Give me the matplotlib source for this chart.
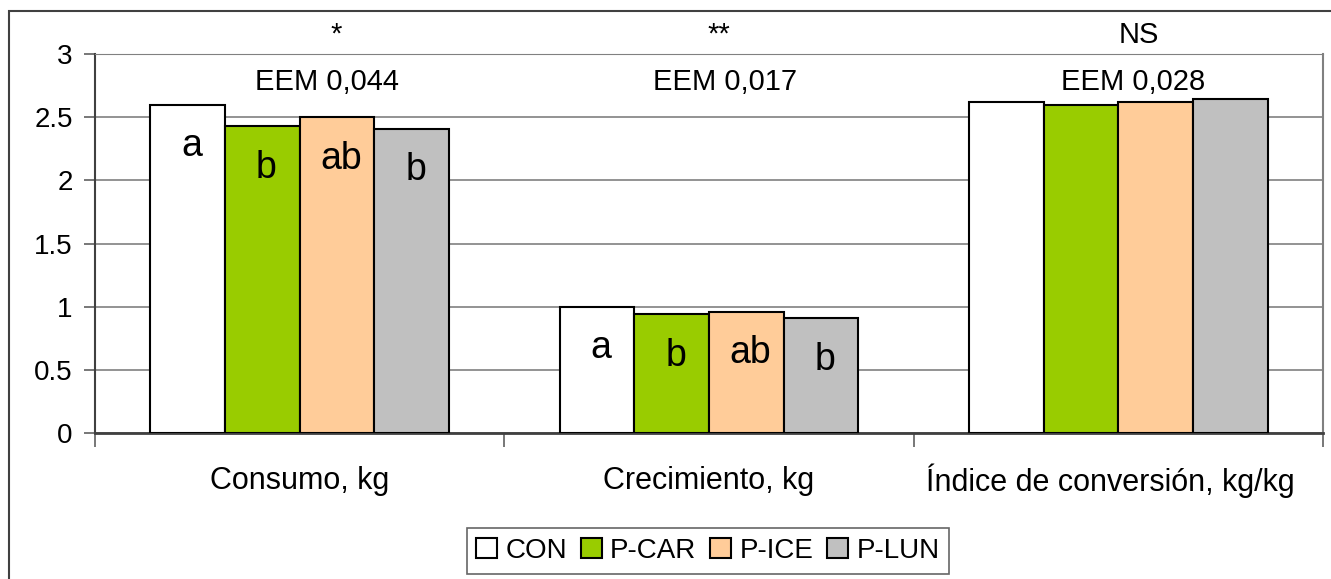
import numpy as np
import matplotlib
matplotlib.use('Agg')
import matplotlib.pyplot as plt
from matplotlib.patches import Rectangle

plt.rcParams['font.family'] = ['Liberation Sans', 'DejaVu Sans']

# --- DATA ---
categories = ['Consumo, kg', 'Crecimiento, kg', 'Índice de conversión, kg/kg']
treatments = ['CON', 'P-CAR', 'P-ICE', 'P-LUN']
values = {
    'CON':   [2.60, 1.00, 2.62],
    'P-CAR': [2.43, 0.94, 2.60],
    'P-ICE': [2.50, 0.96, 2.62],
    'P-LUN': [2.41, 0.91, 2.64],
}
letters = {
    'CON':   ['a', 'a', ''],
    'P-CAR': ['b', 'b', ''],
    'P-ICE': ['ab', 'ab', ''],
    'P-LUN': ['b', 'b', ''],
}
signif = ['*', '**', 'NS']
eem = ['EEM 0,044', 'EEM 0,017', 'EEM 0,028']
colors = ['#FFFFFF', '#99CC00', '#FFCC99', '#C0C0C0']

# --- FIGURE ---
fig = plt.figure(figsize=(13.31, 5.79), dpi=100)
ax = fig.add_axes([95 / 1331, 1 - 433 / 579, (1323 - 95) / 1331, (433 - 54) / 579])

# outer chart-area border (cut off on right/bottom like the original)
fig.patches.append(Rectangle((9 / 1331, -0.1), 2.0, 1 - 11 / 579 + 0.1,
                             transform=fig.transFigure, fill=False,
                             edgecolor='#404040', linewidth=1.5))

bar_w = 0.1825
x = np.arange(len(categories))
for i, t in enumerate(treatments):
    pos = x - 1.5 * bar_w + i * bar_w
    ax.bar(pos, values[t], width=bar_w, color=colors[i], edgecolor='black',
           linewidth=1.5, label=t, zorder=3)
    for j in range(len(categories)):
        if letters[t][j]:
            ax.text(pos[j] + 0.01, values[t][j] - 0.33, letters[t][j], ha='center',
                    va='center', fontsize=27, zorder=4)

# header texts, nudged right a little as in the original
sig_dx = [0.088, 0.025, 0.05]
eem_dx = [0.066, 0.04, 0.037]
for j in range(len(categories)):
    ax.text(x[j] + sig_dx[j], 3.15, signif[j], ha='center', va='center',
            fontsize=21, clip_on=False)
    ax.text(x[j] + eem_dx[j], 2.78, eem[j], ha='center', va='center', fontsize=21)

ax.set_xlim(-0.5, 2.5)
ax.set_ylim(0, 3)
ax.set_yticks(np.arange(0, 3.01, 0.5))
ax.set_yticklabels(['0', '0.5', '1', '1.5', '2', '2.5', '3'])
ax.yaxis.grid(True, color='#808080', linewidth=1.2, zorder=0)
ax.set_axisbelow(True)

# category labels centred, ticks on category boundaries
ax.set_xticks([-0.5, 0.5, 1.5, 2.5])
ax.set_xticklabels([])
ax.tick_params(axis='x', length=10, width=1.2, color='#606060')
ax.tick_params(axis='y', length=8, width=1.2, color='#606060', labelsize=20, pad=8)
lab_dx = [0.0, 0.0, -0.02]
for j, c in enumerate(categories):
    ax.text(x[j] + lab_dx[j], -0.38, c, ha='center', va='center', fontsize=22)

ax.spines['left'].set_color('#404040')
ax.spines['bottom'].set_color('#404040')
ax.spines['left'].set_linewidth(1.5)
ax.spines['bottom'].set_linewidth(2)
ax.spines['top'].set_color('#808080')
ax.spines['right'].set_color('#808080')
ax.spines['right'].set_linewidth(1.5)

leg = ax.legend(loc='center', bbox_to_anchor=(708 / 1331, 1 - 551 / 579),
                bbox_transform=fig.transFigure, ncol=4, fontsize=20,
                frameon=True, fancybox=False, handlelength=0.75, handleheight=0.75,
                handletextpad=0.3, columnspacing=0.5, borderpad=0.35,
                borderaxespad=0)
leg.get_frame().set_edgecolor('#404040')
leg.get_frame().set_linewidth(1.2)

fig.savefig('out.png', dpi=100)
